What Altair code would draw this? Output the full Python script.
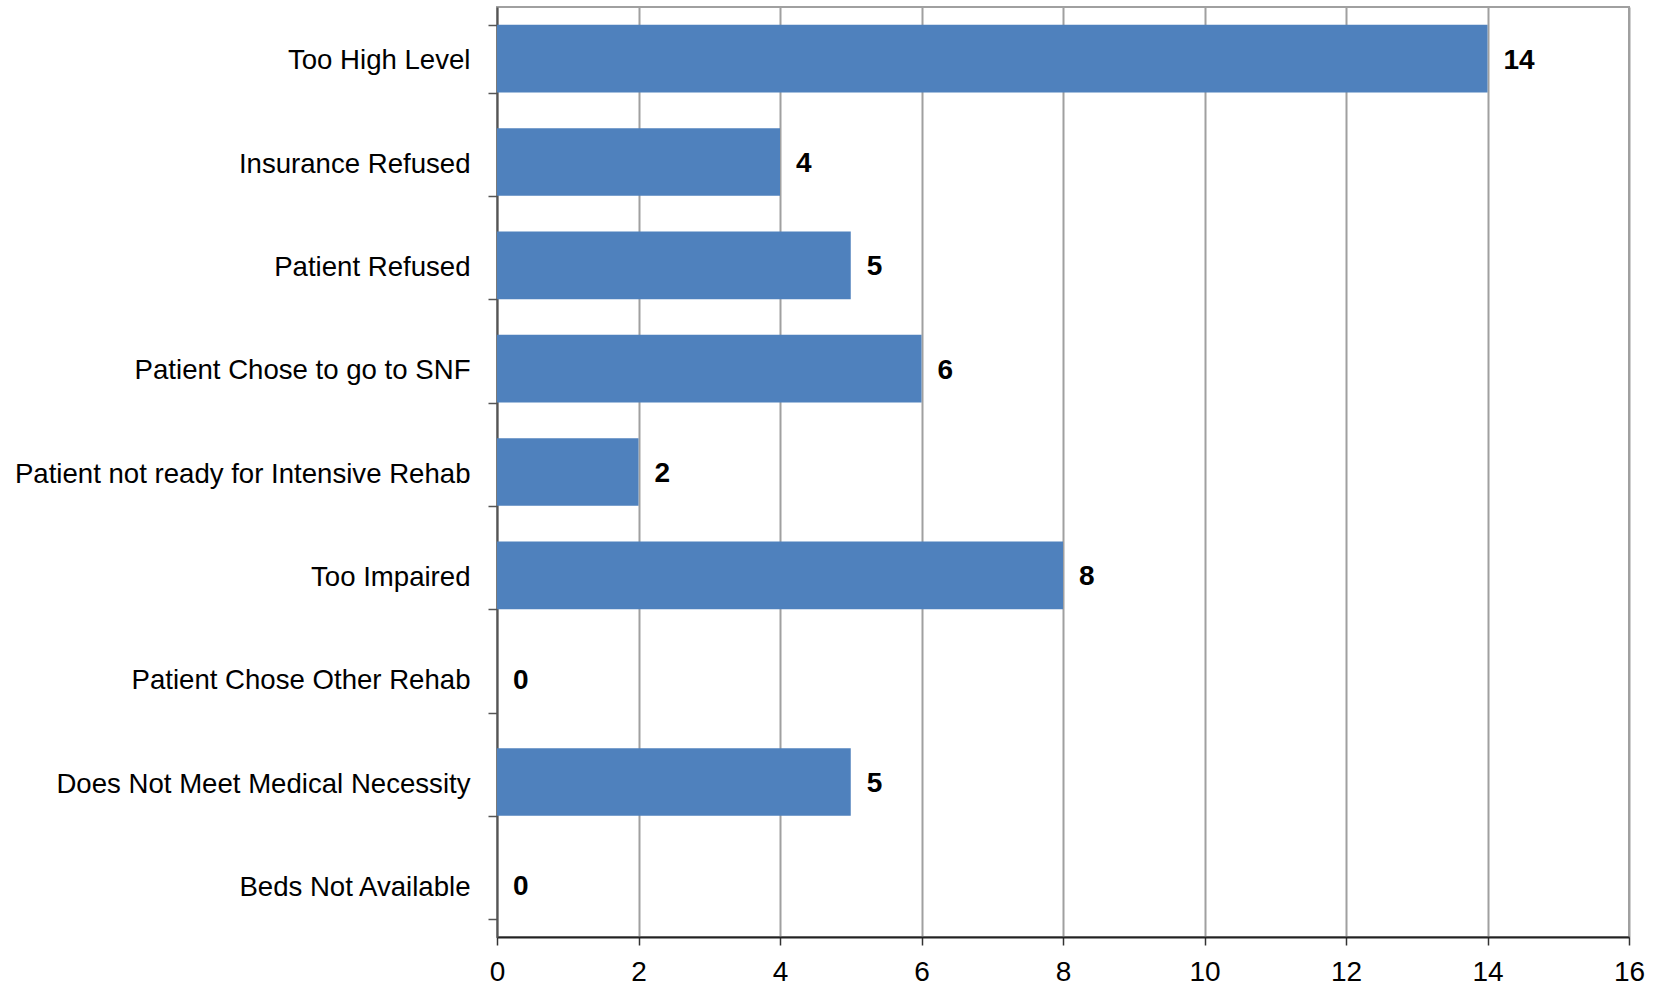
import altair as alt
import pandas as pd

categories = [
    "Too High Level",
    "Insurance Refused",
    "Patient Refused",
    "Patient Chose to go to SNF",
    "Patient not ready for Intensive Rehab",
    "Too Impaired",
    "Patient Chose Other Rehab",
    "Does Not Meet Medical Necessity",
    "Beds Not Available",
]
counts = [14, 4, 5, 6, 2, 8, 0, 5, 0]
x_ticks = [0, 2, 4, 6, 8, 10, 12, 14, 16]

df = pd.DataFrame({"reason": categories, "count": counts})

FONT = "Liberation Sans"

y_enc = alt.Y(
    "reason:N",
    sort=categories,
    scale=alt.Scale(paddingInner=0.345, paddingOuter=0.1725),
    axis=alt.Axis(
        title=None,
        labelFontSize=27.6,
        labelFont=FONT,
        labelColor="#000000",
        labelPadding=18,
        labelOffset=2,
        tickBand="extent",
        tickSize=9,
        tickColor="#555555",
        tickWidth=1.5,
        domainColor="#555555",
        domainWidth=2,
        grid=False,
        labelLimit=600,
    ),
)

x_enc = alt.X(
    "count:Q",
    scale=alt.Scale(domain=[0, 16], nice=False, zero=True),
    axis=alt.Axis(
        title=None,
        values=x_ticks,
        format="d",
        labelFlush=False,
        labelFontSize=28,
        labelFont=FONT,
        labelColor="#000000",
        labelPadding=13,
        tickSize=8,
        tickColor="#333333",
        tickWidth=1.5,
        domainColor="#222222",
        domainWidth=2,
        grid=True,
        gridColor="#A0A0A0",
        gridWidth=2,
    ),
)

bars = alt.Chart(df).mark_bar(color="#4F81BD").encode(x=x_enc, y=y_enc)

labels = alt.Chart(df).mark_text(
    align="left", baseline="middle", dx=16, dy=2, fontWeight="bold", fontSize=28, font=FONT, color="#000000"
).encode(x=alt.X("count:Q"), y=alt.Y("reason:N", sort=categories), text=alt.Text("count:Q"))

chart = (
    alt.layer(bars, labels)
    .properties(
        width=1132,
        height=930,
        autosize=alt.AutoSizeParams(type="none"),
        padding={"left": 497, "top": 7, "right": 34, "bottom": 50},
        background="white",
    )
    .configure_view(stroke="#A0A0A0", strokeWidth=2)
)

chart.save("out.html", embed_options={"renderer": "svg", "actions": False})
